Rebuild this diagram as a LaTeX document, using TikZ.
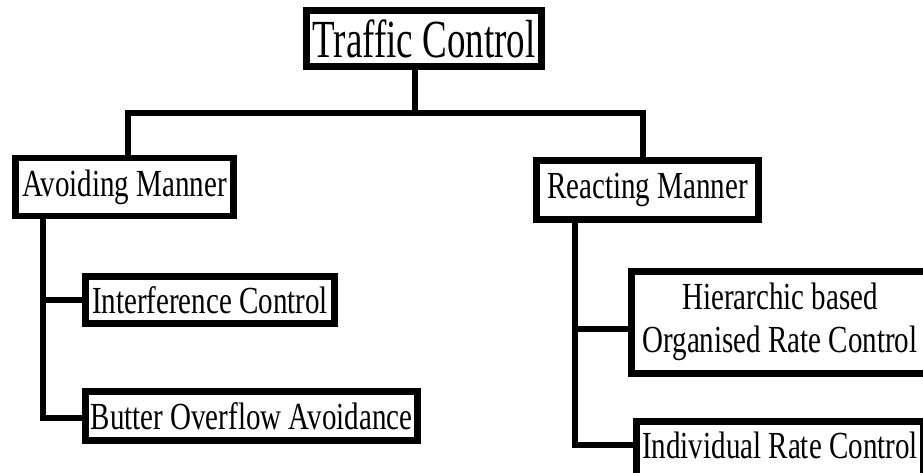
\documentclass[tikz,border=0pt]{standalone}
\usepackage{fontspec}
\setmainfont{Liberation Serif}
\newcommand{\lbl}[1]{\scalebox{1}[1.32]{\fontsize{29}{32.6}\selectfont #1}}
\begin{document}
\begin{tikzpicture}[x=1pt,y=-1pt,
  box/.style={draw=black, fill=white, line width=6.5pt, inner sep=0pt, rectangle, anchor=center},
  txt/.style={inner sep=0pt, anchor=center},
  conn/.style={line width=6.5pt, line join=miter}]
\useasboundingbox (0,0) rectangle (923,472);
\fill[white] (0,0) rectangle (923,472);
\clip (0,0) rectangle (923,472);
% connectors
\coordinate (j0) at (415,113);
\coordinate (jl) at (128,113);
\coordinate (jr) at (643,113);
\coordinate (vl) at (43,0);
\coordinate (vr) at (575,0);
% boxes
\node[box, minimum width=235pt, minimum height=56pt] (TC) at (424,38.5)
  {\scalebox{1}[1.45]{\fontsize{37}{40}\selectfont Traffic Control}};
\node[box, minimum width=218pt, minimum height=58pt] (AM) at (124.5,187) {\lbl{Avoiding Manner}};
\node[box, minimum width=222pt, minimum height=59pt] (RM) at (647.5,190) {\lbl{Reacting Manner}};
\node[box, minimum width=249pt, minimum height=47pt] (IC) at (210,300) {\lbl{Interference Control}};
\node[box, minimum width=332pt, minimum height=49pt] (BOA) at (251.5,416) {\lbl{Butter Overflow Avoidance}};
\node[box, minimum width=297pt, minimum height=102pt] (HB) at (780,322.5)
  {\lbl{\begin{tabular}{@{}c@{}}Hierarchic based\\Organised Rate Control\end{tabular}}};
\node[box, minimum width=287pt, minimum height=65pt] (IRC) at (780,454) {};
\node[txt] (IRCt) at (780,445) {\lbl{Individual Rate Control}};
\coordinate (hbw) at ([yshift=-6.5pt]HB.west);
\coordinate (irw) at ([yshift=9pt]IRC.west);
\coordinate (boaw) at ([yshift=-2pt]BOA.west);
% lines
\draw[conn] (TC.south -| j0) -- (j0);
\draw[conn] (AM.north -| jl) -- (jl) -- (jr) -- (RM.north -| jr);
\draw[conn] (AM.south -| vl) |- (boaw);
\draw[conn] (vl |- IC.west) -- (IC.west);
\draw[conn] (RM.south -| vr) |- (irw);
\draw[conn] (vr |- hbw) -- (hbw);
\end{tikzpicture}
\end{document}
